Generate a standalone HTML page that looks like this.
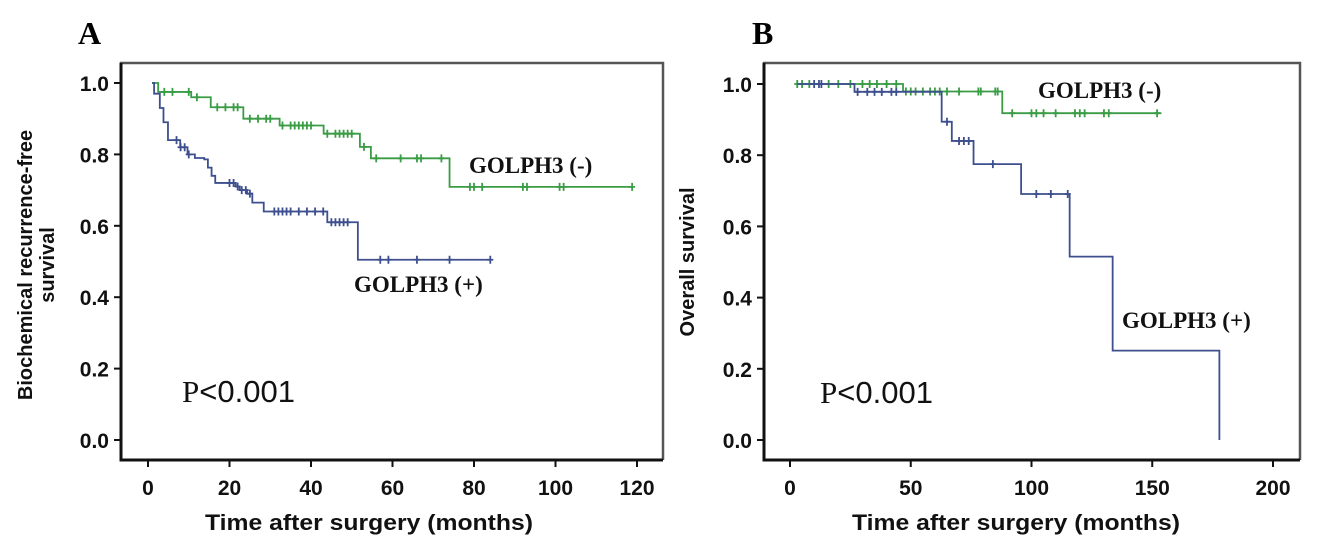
<!DOCTYPE html>
<html><head><meta charset="utf-8"><style>
body{margin:0;background:#fff;}
svg{display:block;font-family:"Liberation Sans",sans-serif;}
.tk{font-weight:bold;font-size:21px;fill:#111;}
.ax{font-weight:bold;font-size:20px;fill:#111;}
.lg{font-family:"Liberation Serif",serif;font-weight:bold;font-size:23px;fill:#111;}
</style></head><body>
<svg id="c" width="1319" height="552"></svg>
<script>
// Panel A data
const aXTicks=[0,20,40,60,80,100,120];
const aYTicks=[0.0,0.2,0.4,0.6,0.8,1.0];
const aNegT=[1,2.5,10.6,15.4,23.4,32.3,43.1,52,54.7,74,118.8];
const aNegS=[1.0,0.975,0.96,0.932,0.90,0.881,0.858,0.821,0.789,0.709,0.709];
const aNegCens=[4,6,10,12,17,19,21,22,25,27,29,30,33,35,36,37,38,39,40,44,46,47,48,49,50,53,56,62,66,67,72,79,80,82,92,93,101,102,118.8];
const aPosT=[1,1.5,2.9,3.8,4.9,7.9,9.7,11.5,13.8,14.7,15.6,16.5,21.5,22.5,24.3,25.6,28.4,44,51.5,84.3];
const aPosS=[1.0,0.97,0.93,0.89,0.84,0.82,0.80,0.79,0.786,0.763,0.74,0.72,0.71,0.70,0.69,0.665,0.64,0.61,0.505,0.505];
const aPosCens=[7,8,9,10,20,21,22,23,24,25,31,32,33,34,35,37,39,41,43,45,46,47,48,49,57,59,66,74,84];
// Panel B data
const bXTicks=[0,50,100,150,200];
const bYTicks=[0.0,0.2,0.4,0.6,0.8,1.0];
const bNegT=[3,46.8,87.9,153.8];
const bNegS=[1.0,0.979,0.918,0.918];
const bNegCens=[3,5,8,16,20,25,30,33,36,40,44,48,50,52,55,58,60,62,65,70,78,79,85,86,92,100,102,105,110,118,120,122,130,132,152];
const bPosT=[3,26.7,62.8,67,76,95.7,115.8,133.6,177.8,177.8];
const bPosS=[1.0,0.978,0.894,0.84,0.775,0.691,0.515,0.251,0.251,0.0];
const bPosCens=[10,12,13,28,32,35,38,42,44,65,70,72,74,84,102,108,115];

const NS="http://www.w3.org/2000/svg";
const svg=document.getElementById('c');
function mk(tag,at,parent){const e=document.createElementNS(NS,tag);for(const k in at)e.setAttribute(k,at[k]);(parent||svg).appendChild(e);return e;}
function stepAt(T,S,t){let s=S[0];for(let i=0;i<T.length;i++){if(T[i]<=t)s=S[i];}return s;}

function panel(cfg){
  const g=mk('g',{});
  
  
  const xs=v=>cfg.x0+(v-cfg.xmin)*(cfg.x1-cfg.x0)/(cfg.xmax-cfg.xmin);
  const ys=v=>cfg.y0+(v)*(cfg.y1-cfg.y0);
  const fr=mk('path',{d:`M${cfg.bl},${cfg.bb} L${cfg.bl},${cfg.bt} L${cfg.br},${cfg.bt} L${cfg.br},${cfg.bb}`,fill:'none',stroke:'#555',"stroke-width":2.5},g);
  
  
  const axl=mk('path',{d:`M${cfg.bl},${cfg.bt} L${cfg.bl},${cfg.bb} L${cfg.br},${cfg.bb}`,fill:'none',stroke:'#111',"stroke-width":3},g);
  
  
  cfg.yt.forEach(v=>{
    const y=ys(v);
    mk('line',{x1:cfg.bl-7,x2:cfg.bl,y1:y,y2:y,stroke:'#111',"stroke-width":2},g);
    const t=mk('text',{x:cfg.bl-12,y:y+8,"text-anchor":"end",class:'tk'},g);
    t.textContent=v.toFixed(1);
    
    
  });
  cfg.xt.forEach(v=>{
    const x=xs(v);
    mk('line',{x1:x,x2:x,y1:cfg.bb,y2:cfg.bb+7,stroke:'#111',"stroke-width":2},g);
    const t=mk('text',{x:x,y:cfg.bb+35,"text-anchor":"middle",class:'tk'},g);
    t.textContent=v;
    
    
  });
  cfg.series.forEach(s=>{
    let d=`M${xs(s.T[0])},${ys(s.S[0])}`;
    for(let i=1;i<s.T.length;i++){d+=` H${xs(s.T[i])} V${ys(s.S[i])}`;}
    const p=mk('path',{d:d,fill:'none',stroke:s.col,"stroke-width":1.8},g);
    
    
    s.C.forEach(t=>{
      const x=xs(t),y=ys(stepAt(s.T,s.S,t));
      const m=mk('path',{d:`M${x},${y-4} V${y+4} M${x-3},${y} H${x+3}`,stroke:s.col,"stroke-width":1.8},g);
      
      
    });
  });
}
panel({name:'panel-a',xmin:0,xmax:120,x0:148,x1:637,y0:440,y1:83,bl:121,br:663,bt:63,bb:460,xt:aXTicks,yt:aYTicks,
  series:[{name:'golph3-neg-curve',T:aNegT,S:aNegS,C:aNegCens,col:'#3a9c45'},{name:'golph3-pos-curve',T:aPosT,S:aPosS,C:aPosCens,col:'#3d4f8e'}]});
panel({name:'panel-b',xmin:0,xmax:200,x0:790,x1:1273,y0:440,y1:84,bl:764,br:1300,bt:63,bb:460,xt:bXTicks,yt:bYTicks,
  series:[{name:'golph3-neg-curve',T:bNegT,S:bNegS,C:bNegCens,col:'#3a9c45'},{name:'golph3-pos-curve',T:bPosT,S:bPosS,C:bPosCens,col:'#3d4f8e'}]});
</script>
<svg width="1319" height="552" style="position:absolute;left:0;top:0">
<text x="78" y="44" font-family="Liberation Serif" font-weight="bold" font-size="32">A</text>
<text x="752" y="44" font-family="Liberation Serif" font-weight="bold" font-size="32">B</text>
<text transform="translate(32,265) rotate(-90)" text-anchor="middle" class="ax">Biochemical recurrence-free</text>
<text transform="translate(54,265) rotate(-90)" text-anchor="middle" class="ax">survival</text>
<text transform="translate(694,262) rotate(-90)" text-anchor="middle" class="ax">Overall survival</text>
<text x="205" y="530" textLength="328" lengthAdjust="spacingAndGlyphs" class="ax" style="font-size:22px">Time after surgery (months)</text>
<text x="852" y="530" textLength="328" lengthAdjust="spacingAndGlyphs" class="ax" style="font-size:22px">Time after surgery (months)</text>
<text x="469" y="173" class="lg">GOLPH3 (-)</text>
<text x="354" y="292" class="lg">GOLPH3 (+)</text>
<text x="1038" y="98" class="lg">GOLPH3 (-)</text>
<text x="1122" y="328" class="lg">GOLPH3 (+)</text>
<text x="182" y="402" font-size="31" fill="#111"><tspan font-family="Liberation Serif">P</tspan>&lt;0.001</text>
<text x="820" y="403" font-size="31" fill="#111"><tspan font-family="Liberation Serif">P</tspan>&lt;0.001</text>
</svg>
</body></html>
